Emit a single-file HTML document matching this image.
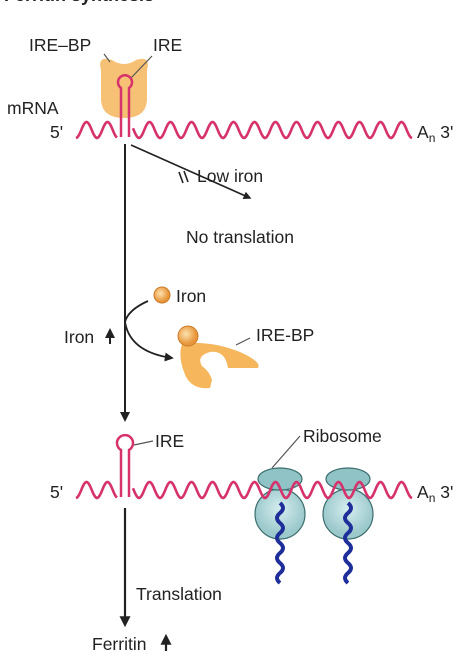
<!DOCTYPE html>
<html><head><meta charset="utf-8"><style>
body{margin:0;background:#fff;}
svg{display:block;font-family:"Liberation Sans",sans-serif;}
text{fill:#222;font-size:17.5px;}
</style></head><body>
<svg width="467" height="659" viewBox="0 0 467 659">
<defs>
<marker id="ah" viewBox="0 0 10 10" refX="8" refY="5" markerWidth="5" markerHeight="5" orient="auto"><path d="M0,0L10,5L0,10z" fill="#222"/></marker>
<radialGradient id="ball" cx="0.4" cy="0.4"><stop offset="0" stop-color="#fde3b0"/><stop offset="1" stop-color="#e8963a"/></radialGradient>
<radialGradient id="rib" cx="0.5" cy="0.4"><stop offset="0" stop-color="#d6eef0"/><stop offset="1" stop-color="#9cc9cc"/></radialGradient>
</defs>
<text x="4" y="1" style="font-weight:bold;font-size:18px">Ferritin synthesis</text>
<path d="M101,70 Q97,55 112,60 Q124,68 136,60 Q151,55 147,70 L147,100 Q146,118 124,118 Q102,118 101,100z" fill="#f5b65c" opacity="0.85"/>
<text x="29" y="51">IRE–BP</text>
<line x1="104" y1="54" x2="110" y2="62" stroke="#555" stroke-width="1.2"/>
<text x="153" y="51">IRE</text>
<line x1="152" y1="56" x2="131" y2="78" stroke="#555" stroke-width="1.2"/>
<text x="7" y="114">mRNA</text>
<text x="50" y="138">5'</text>
<text x="417" y="138">A<tspan font-size="12" dy="4">n</tspan><tspan dy="-4"> 3'</tspan></text>
<g id="wave1"></g>
<path d="M121,137 L121,88 A7,7 0 1 1 129,88 L129,137" fill="none" stroke="#d6336c" stroke-width="2.5"/>
<line x1="125" y1="144" x2="125" y2="420" stroke="#222" stroke-width="2" marker-end="url(#ah)"/>
<line x1="131" y1="145" x2="250" y2="198" stroke="#222" stroke-width="1.6" marker-end="url(#ah)"/>
<path d="M179,172 L183,183 M184,171 L188,182" stroke="#222" stroke-width="1.6"/>
<text x="197" y="182">Low iron</text>
<text x="186" y="243">No translation</text>
<circle cx="162" cy="295" r="8" fill="url(#ball)" stroke="#c97a2a"/>
<text x="176" y="302">Iron</text>
<path d="M148,301 Q128,310 125,322 Q130,352 172,358" fill="none" stroke="#222" stroke-width="1.8" marker-end="url(#ah)"/>
<text x="64" y="343">Iron</text>
<path d="M110,344 L110,330" stroke="#222" stroke-width="2" marker-end="url(#ah)"/>
<path d="M182,344 Q210,340 240,352 Q262,362 258,368 L228,368 Q225,350 210,352 Q196,356 202,366 Q210,372 212,380 L210,388 Q190,390 184,372 Q178,356 182,344z" fill="#f5b65c"/>
<circle cx="188" cy="336" r="10" fill="url(#ball)" stroke="#c97a2a"/>
<line x1="236" y1="345" x2="250" y2="338" stroke="#555" stroke-width="1.2"/>
<text x="256" y="341">IRE-BP</text>
<text x="155" y="447">IRE</text>
<line x1="153" y1="441" x2="134" y2="445" stroke="#555" stroke-width="1.2"/>
<text x="303" y="442">Ribosome</text>
<line x1="300" y1="436" x2="272" y2="468" stroke="#555" stroke-width="1.2"/>
<text x="50" y="498">5'</text>
<text x="417" y="498">A<tspan font-size="12" dy="4">n</tspan><tspan dy="-4"> 3'</tspan></text>
<g id="ribs"></g>
<g id="wave2"></g>
<path d="M121,497 L121,450 A8,8 0 1 1 129,450 L129,497" fill="none" stroke="#d6336c" stroke-width="2.5"/>
<line x1="125" y1="508" x2="125" y2="625" stroke="#222" stroke-width="2.2" marker-end="url(#ah)"/>
<text x="136" y="600">Translation</text>
<text x="92" y="650">Ferritin</text>
<path d="M166,651 L166,636" stroke="#222" stroke-width="2.2" marker-end="url(#ah)"/>
</svg>
<script>
const NS="http://www.w3.org/2000/svg";
function wave(g,y){
  let d="";const x0=76,x1=412,per=21,amp=8;
  for(let x=x0;x<=x1;x+=1){
    if(x>=118&&x<=132){continue;}
    const yy=y+amp*Math.cos((x-x0)/per*2*Math.PI);
    d+=(d===""||x===133?"M":"L")+x+","+yy.toFixed(1)+" ";
  }
  const p=document.createElementNS(NS,"path");
  p.setAttribute("d",d);p.setAttribute("fill","none");p.setAttribute("stroke","#d6336c");p.setAttribute("stroke-width","2.6");
  
  
  document.getElementById(g).appendChild(p);
}
const ribX=[280,348];
const rg=document.getElementById("ribs");
ribX.forEach(cx=>{
  const g=document.createElementNS(NS,"g");
  
  
  g.innerHTML=`<circle cx="${cx}" cy="514" r="25" fill="url(#rib)" stroke="#3c6e6e" stroke-width="1.2"/>
  <ellipse cx="${cx}" cy="479" rx="22" ry="11" fill="#8fc3c6" stroke="#3c6e6e" stroke-width="1.2"/>`;
  let d="M"+cx+",503";
  for(let i=0;i<8;i++){const y=503+i*10;d+=` Q${cx+(i%2?-6:6)},${y+5} ${cx},${y+10}`;}
  const p=document.createElementNS(NS,"path");
  p.setAttribute("d",d);p.setAttribute("fill","none");p.setAttribute("stroke","#1f2f9a");p.setAttribute("stroke-width","4");
  
  
  g.appendChild(p);
  rg.appendChild(g);
});
wave("wave1",130);
wave("wave2",490);
</script>
</body></html>
